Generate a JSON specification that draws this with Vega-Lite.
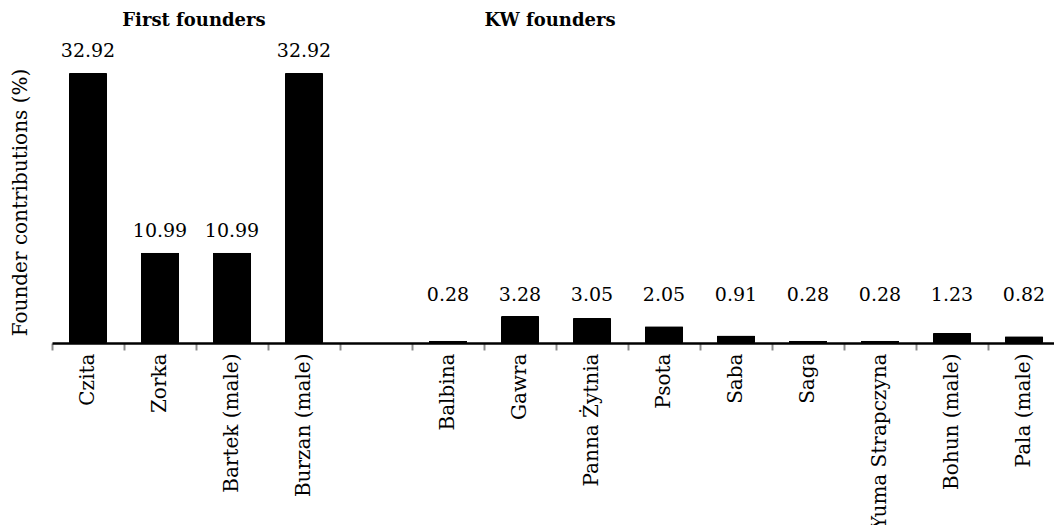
{
  "$schema": "https://vega.github.io/schema/vega-lite/v6.json",
  "width": 1008,
  "height": 333,
  "autosize": {"type": "none"},
  "padding": {"left": 52, "top": 10, "right": 0, "bottom": 182},
  "background": "white",
  "config": {"view": {"stroke": null}, "font": "DejaVu Serif"},
  "data": {"values": [
    {"name": "Czita", "value": 32.92, "group": "First"},
    {"name": "Zorka", "value": 10.99, "group": "First"},
    {"name": "Bartek (male)", "value": 10.99, "group": "First"},
    {"name": "Burzan (male)", "value": 32.92, "group": "First"},
    {"name": "Balbina", "value": 0.28, "group": "KW"},
    {"name": "Gawra", "value": 3.28, "group": "KW"},
    {"name": "Panna Żytnia", "value": 3.05, "group": "KW"},
    {"name": "Psota", "value": 2.05, "group": "KW"},
    {"name": "Saba", "value": 0.91, "group": "KW"},
    {"name": "Saga", "value": 0.28, "group": "KW"},
    {"name": "Yuma Strapczyna", "value": 0.28, "group": "KW"},
    {"name": "Bohun (male)", "value": 1.23, "group": "KW"},
    {"name": "Pala (male)", "value": 0.82, "group": "KW"}
  ]},
  "encoding": {
    "x": {
      "field": "name", "type": "nominal",
      "scale": {"domain": ["Czita", "Zorka", "Bartek (male)", "Burzan (male)", " ", "Balbina", "Gawra", "Panna Żytnia", "Psota", "Saba", "Saga", "Yuma Strapczyna", "Bohun (male)", "Pala (male)"], "paddingInner": 0, "paddingOuter": 0},
      "axis": {
        "title": null, "labelAngle": -90, "labelFontSize": 20, "labelColor": "black",
        "labelFont": "DejaVu Serif", "labelPadding": 3,
        "bandPosition": 0, "ticks": true, "tickColor": "#8c8c8c", "tickWidth": 2, "tickSize": 7,
        "domainColor": "black", "domainWidth": 2.5, "grid": false
      }
    }
  },
  "layer": [
    {
      "mark": {"type": "bar", "color": "black", "width": {"band": 0.53}, "cornerRadius": 1},
      "encoding": {
        "y": {
          "field": "value", "type": "quantitative",
          "scale": {"domain": [0, 40.6], "nice": false},
          "axis": {
            "title": "Founder contributions (%)", "titleFontSize": 20, "titleFont": "DejaVu Serif",
            "titleFontWeight": "normal", "titleColor": "black", "titleAngle": -90,
            "titleY": 192, "titleX": -32, "titleBaseline": "middle",
            "labels": false, "ticks": false, "domain": false, "grid": false
          }
        }
      }
    },
    {
      "transform": [{"filter": "datum.group === 'First'"}],
      "mark": {"type": "text", "fontSize": 19, "baseline": "bottom", "dy": -12, "color": "black"},
      "encoding": {
        "y": {"field": "value", "type": "quantitative"},
        "text": {"field": "value", "type": "quantitative", "format": ".2f"}
      }
    },
    {
      "transform": [{"filter": "datum.group === 'KW'"}],
      "mark": {"type": "text", "fontSize": 19, "baseline": "bottom", "dy": -11, "color": "black"},
      "encoding": {
        "y": {"datum": 3.28, "type": "quantitative"},
        "text": {"field": "value", "type": "quantitative", "format": ".2f"}
      }
    },
    {
      "data": {"values": [{"header": "First founders", "at": "Bartek (male)"}]},
      "mark": {"type": "text", "fontSize": 18, "fontWeight": "bold", "baseline": "middle", "color": "black", "dx": -2},
      "encoding": {
        "x": {"field": "at", "type": "nominal", "bandPosition": 0},
        "y": {"datum": 39.3, "type": "quantitative"},
        "text": {"field": "header"}
      }
    },
    {
      "data": {"values": [{"header": "KW founders", "at": "Panna Żytnia"}]},
      "mark": {"type": "text", "fontSize": 18, "fontWeight": "bold", "baseline": "middle", "color": "black", "dx": -6},
      "encoding": {
        "x": {"field": "at", "type": "nominal", "bandPosition": 0},
        "y": {"datum": 39.3, "type": "quantitative"},
        "text": {"field": "header"}
      }
    }
  ]
}
